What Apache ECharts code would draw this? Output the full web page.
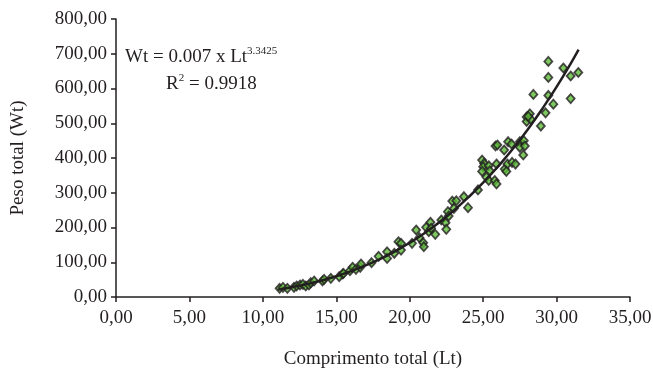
<!DOCTYPE html>
<html>
<head>
<meta charset="utf-8">
<script src="https://cdn.jsdelivr.net/npm/echarts@6/dist/echarts.min.js"></script>
<style>
  html, body { margin: 0; padding: 0; background: #fff; }
  #chart { width: 653px; height: 374px; }
</style>
</head>
<body>
<div id="chart"></div>
<script>
// comprimento total (Lt) e peso total (Wt)
const lengths = [
  11.14, 11.37, 11.67, 12.12, 12.30, 12.53, 12.73, 12.92, 13.14, 13.26,
  13.49, 14.06, 14.17, 14.63, 15.20, 15.43, 15.49, 15.93, 16.11, 16.34,
  16.63, 16.68, 17.40, 17.88, 18.46, 18.46, 18.95, 19.23, 19.41, 19.41,
  20.16, 20.44, 20.66, 20.92, 20.96, 21.12, 21.30, 21.41, 21.46, 21.74,
  22.15, 22.44, 22.49, 22.60, 22.65, 22.90, 23.01, 23.17, 23.69, 23.97,
  24.65, 24.93, 25.07, 25.00, 24.93, 25.38, 25.45, 25.91, 25.22, 25.38,
  25.79, 25.91, 25.84, 25.97, 26.43, 26.70, 26.93, 27.50, 27.77, 27.50,
  27.84, 27.73, 26.47, 26.65, 26.97, 27.20, 26.58, 27.96, 28.18, 27.96,
  28.25, 28.07, 29.25, 28.93, 29.78, 29.44, 28.42, 30.96, 29.44, 30.96,
  31.48, 30.46, 29.44
];
const weights = [
  25.0, 27.9, 25.0, 27.9, 31.7, 34.5, 36.5, 31.7, 34.5, 41.2,
  46.0, 46.0, 50.9, 53.8, 58.4, 66.2, 68.2, 75.7, 85.5, 79.7,
  85.5, 95.0, 98.7, 117.0, 130.0, 111.0, 125.8, 159.0, 154.5, 135.0,
  154.5, 192.8, 170.6, 156.0, 144.7, 200.5, 188.0, 215.0, 197.7, 180.4,
  221.6, 213.8, 194.8, 245.5, 233.0, 276.0, 255.0, 277.0, 288.6, 257.0,
  308.0, 394.0, 384.3, 374.8, 361.3, 377.7, 363.3, 382.6, 345.0, 335.3,
  335.3, 325.5, 434.5, 437.4, 423.0, 446.9, 440.3, 446.9, 449.8, 430.8,
  434.5, 408.6, 368.3, 382.6, 387.2, 382.6, 361.3, 518.0, 527.0, 505.0,
  511.0, 520.0, 530.0, 492.0, 555.0, 580.0, 583.0, 571.0, 632.0, 636.0,
  646.0, 659.0, 678.0
];

// curva de tendência (Wt = 0.007 x Lt^3.3425)
const trendLengths = [11, 12, 13, 14, 15, 16, 17, 18, 19, 20, 21, 22, 23, 24, 25, 26, 27, 28, 29, 30, 31, 31.5];
const trendWeights = [21.2, 28.3, 37.0, 47.4, 59.7, 74.2, 90.8, 109.6, 131.4, 156.0, 183.6, 214.5, 248.9, 287.0, 328.9, 375.0, 425.0, 480.0, 540.0, 604.7, 674.7, 711.8];

const fmt = v => v.toFixed(2).replace('.', ',');
const ink = '#231f20';
const serif = 'Liberation Serif';

const chart = echarts.init(document.getElementById('chart'));

const option = {
  animation: false,
  grid: { left: 116, right: 23, top: 19, bottom: 77, containLabel: false, outerBoundsMode: 'none' },
  xAxis: {
    type: 'value',
    min: 0, max: 35, interval: 5,
    name: 'Comprimento total (Lt)',
    nameLocation: 'middle',
    nameGap: 53,
    nameTextStyle: { color: ink, fontFamily: serif, fontSize: 19 },
    axisLine: { onZero: false, lineStyle: { color: ink, width: 1.5 } },
    axisTick: { inside: false, length: 5, lineStyle: { color: ink, width: 1.5 } },
    axisLabel: { formatter: fmt, color: ink, fontFamily: serif, fontSize: 19, margin: 12 },
    splitLine: { show: false }
  },
  yAxis: {
    type: 'value',
    min: 0, max: 800, interval: 100,
    name: 'Peso total (Wt)',
    nameLocation: 'middle',
    nameGap: 88,
    nameTextStyle: { color: ink, fontFamily: serif, fontSize: 19 },
    axisLine: { show: true, onZero: false, lineStyle: { color: ink, width: 1.5 } },
    axisTick: { show: true, inside: false, length: 5, lineStyle: { color: ink, width: 1.5 } },
    axisLabel: { formatter: fmt, color: ink, fontFamily: serif, fontSize: 19, margin: 9 },
    splitLine: { show: false }
  },
  graphic: [
    {
      type: 'text', left: 125, top: 46,
      style: {
        text: '{a|Wt = 0.007 x Lt}{s|3.3425}',
        rich: {
          a: { fontFamily: serif, fontSize: 19, fill: ink, lineHeight: 22 },
          s: { fontFamily: serif, fontSize: 11, fill: ink, verticalAlign: 'top', lineHeight: 22 }
        }
      }
    },
    {
      type: 'text', left: 166, top: 73,
      style: {
        text: '{a|R}{s|2}{a| = 0.9918}',
        rich: {
          a: { fontFamily: serif, fontSize: 19, fill: ink, lineHeight: 22 },
          s: { fontFamily: serif, fontSize: 11, fill: ink, verticalAlign: 'top', lineHeight: 22 }
        }
      }
    }
  ],
  series: [
    {
      type: 'scatter',
      data: lengths.map((l, i) => [l, weights[i]]),
      symbol: 'diamond',
      symbolSize: [8, 9],
      itemStyle: { color: '#5cbb38', borderColor: ink, borderWidth: 1.8 },
      z: 2
    },
    {
      type: 'line',
      data: trendLengths.map((l, i) => [l, trendWeights[i]]),
      smooth: true,
      symbol: 'none',
      lineStyle: { color: ink, width: 2.5 },
      z: 3
    }
  ]
};

chart.setOption(option);
</script>
</body>
</html>
